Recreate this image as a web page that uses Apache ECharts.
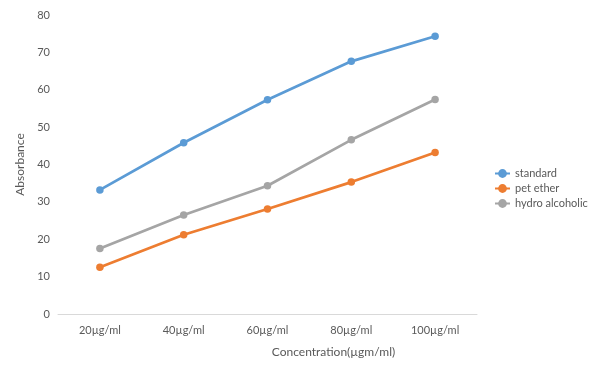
<!DOCTYPE html>
<html><head><meta charset="utf-8">
<script src="https://cdn.jsdelivr.net/npm/echarts@6/dist/echarts.min.js"></script>
<style>html,body{margin:0;padding:0;background:#fff}#c{width:600px;height:374px}</style>
</head><body><div id="c"></div>
<script>
const categories = ['20µg/ml','40µg/ml','60µg/ml','80µg/ml','100µg/ml'];
const standard = [33.2, 45.8, 57.3, 67.6, 74.3];
const petEther = [12.5, 21.2, 28.1, 35.3, 43.2];
const hydroAlcoholic = [17.5, 26.5, 34.3, 46.6, 57.4];
const seriesNames = ['standard','pet ether','hydro alcoholic'];
const colors = ['#5B9BD5','#ED7D31','#A5A5A5'];
const FONT = 'Lato, "Liberation Sans", sans-serif';
const chart = echarts.init(document.getElementById('c'), null, {renderer:'canvas'});
const mk = (name, data, color) => ({
  name, type:'line', data, color,
  symbol:'circle', symbolSize:7.5,
  lineStyle:{width:2.75, color},
  itemStyle:{color},
  animation:false
});
chart.setOption({
  backgroundColor:'#fff',
  textStyle:{fontFamily:FONT},
  grid:{left:58, right:123, top:15, bottom:60, containLabel:false},
  legend:{
    orient:'vertical', left:489, top:163,
    itemWidth:15, itemHeight:11, itemGap:4,
    textStyle:{fontFamily:FONT, fontSize:11, color:'#595959'},
    data:seriesNames
  },
  xAxis:{
    type:'category', data:categories, boundaryGap:true,
    axisLine:{lineStyle:{color:'#D9D9D9', width:1}},
    axisTick:{show:false},
    axisLabel:{color:'#595959', fontSize:11, fontFamily:FONT, margin:11},
    name:'Concentration(µgm/ml)', nameLocation:'middle', nameGap:32,
    nameTextStyle:{color:'#595959', fontSize:12, fontFamily:FONT, padding:[0,0,0,132]}
  },
  yAxis:{
    type:'value', min:0, max:80, interval:10,
    axisLine:{show:false}, axisTick:{show:false},
    splitLine:{show:false},
    axisLabel:{color:'#595959', fontSize:11, fontFamily:FONT, margin:8},
    name:'Absorbance', nameLocation:'middle', nameGap:30,
    nameTextStyle:{color:'#595959', fontSize:12, fontFamily:FONT}
  },
  series:[
    mk(seriesNames[0], standard, colors[0]),
    mk(seriesNames[1], petEther, colors[1]),
    mk(seriesNames[2], hydroAlcoholic, colors[2])
  ]
});
</script></body></html>
